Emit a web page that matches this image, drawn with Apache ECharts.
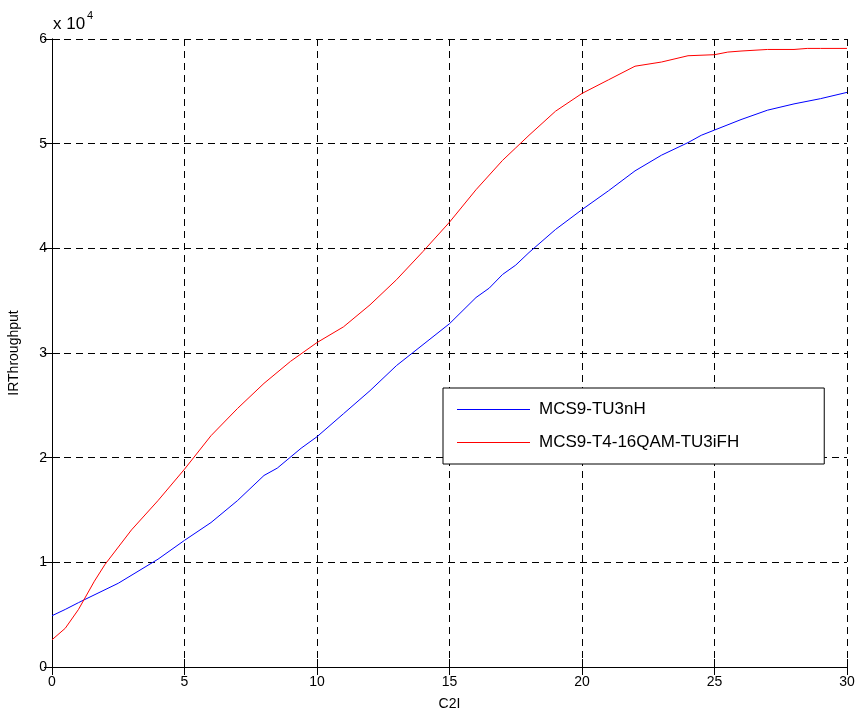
<!DOCTYPE html>
<html>
<head>
<meta charset="utf-8">
<script src="https://cdn.jsdelivr.net/npm/echarts@6/dist/echarts.min.js"></script>
<style>
html,body{margin:0;padding:0;background:#fff;}
#chart{width:857px;height:711px;}
</style>
</head>
<body>
<div id="chart"></div>
<script>
// C2I values (x) and IRThroughput values (y)
var blueX = [0, 0.5, 1, 1.2, 2.5, 4, 5, 6, 7, 8, 8.5, 9.4, 10, 11, 12, 13, 13.6, 14, 15, 16, 16.5, 17, 17.5, 18, 19, 20, 21, 22, 23, 24, 24.5, 25, 26, 27, 28, 29, 30];
var blueY = [4900, 5500, 6150, 6400, 8000, 10300, 12100, 13800, 15900, 18300, 19000, 20900, 22000, 24200, 26400, 28800, 30000, 30800, 32800, 35300, 36200, 37500, 38400, 39600, 41800, 43700, 45500, 47400, 48900, 50100, 50800, 51300, 52300, 53200, 53800, 54300, 54900];
var redX = [0, 0.5, 1, 1.2, 1.6, 2, 3, 4, 5, 6, 7, 8, 9, 10, 11, 12, 13, 14, 15, 16, 17, 17.5, 18, 19, 20, 21, 22, 23, 24, 25, 25.5, 26, 27, 28, 28.5, 29, 30];
var redY = [2600, 3700, 5500, 6400, 8200, 9800, 13100, 15900, 18900, 22100, 24700, 27100, 29200, 31000, 32500, 34600, 37000, 39700, 42500, 45600, 48400, 49600, 50800, 53100, 54800, 56100, 57400, 57800, 58400, 58500, 58750, 58850, 59000, 59000, 59100, 59100, 59100];
var seriesNames = ['MCS9-TU3nH', 'MCS9-T4-16QAM-TU3iFH'];
var xTicks = [0, 5, 10, 15, 20, 25, 30];
var yTicks = [0, 1, 2, 3, 4, 5, 6];
var yScale = 10000;

function pairs(xs, ys) {
  var out = [];
  for (var i = 0; i < xs.length; i++) out.push([xs[i], ys[i]]);
  return out;
}

var FONT = '"Liberation Sans", Arial, Helvetica, sans-serif';
var chart = echarts.init(document.getElementById('chart'), null, {renderer: 'canvas'});

var gridLine = {show: true, lineStyle: {color: '#000', width: 1, type: [7, 5]}};
var axLine = {show: true, lineStyle: {color: '#000', width: 1}};
var axTick = {show: true, inside: true, length: 8, lineStyle: {color: '#000', width: 1}};

chart.setOption({
  backgroundColor: '#fff',
  animation: false,
  textStyle: {fontFamily: FONT},
  grid: {left: 52, right: 10, top: 39, bottom: 44, containLabel: false, outerBoundsMode: 'none'},
  xAxis: [{
    type: 'value', min: xTicks[0], max: xTicks[xTicks.length - 1], interval: 5,
    position: 'bottom',
    name: 'C2I', nameLocation: 'middle', nameGap: 30,
    nameTextStyle: {fontSize: 14, color: '#000', fontFamily: FONT},
    axisLine: axLine, axisTick: axTick, splitLine: gridLine,
    axisLabel: {fontSize: 14, color: '#000', margin: 8, fontFamily: FONT}
  }, {
    type: 'value', min: xTicks[0], max: xTicks[xTicks.length - 1], interval: 5,
    position: 'top',
    axisLine: axLine, axisTick: axTick, splitLine: {show: false}, axisLabel: {show: false}
  }],
  yAxis: [{
    type: 'value', min: 0, max: yTicks[yTicks.length - 1] * yScale, interval: yScale,
    position: 'left',
    name: 'IRThroughput', nameLocation: 'middle', nameGap: 31,
    nameTextStyle: {fontSize: 14, color: '#000', fontFamily: FONT},
    axisLine: axLine, axisTick: axTick, splitLine: gridLine,
    axisLabel: {fontSize: 14, color: '#000', margin: 5, fontFamily: FONT,
      formatter: function (v) { return String(v / yScale); }}
  }, {
    type: 'value', min: 0, max: yTicks[yTicks.length - 1] * yScale, interval: yScale,
    position: 'right',
    axisLine: axLine, axisTick: axTick, splitLine: {show: false}, axisLabel: {show: false}
  }],
  legend: {
    orient: 'vertical', left: 443, top: 388,
    data: seriesNames,
    icon: 'rect', itemWidth: 73, itemHeight: 1.2, itemGap: 16,
    padding: [13, 85, 13, 14],
    borderColor: '#000', borderWidth: 1, backgroundColor: '#fff',
    textStyle: {fontSize: 17, color: '#000', fontFamily: FONT, padding: [0, 0, 0, 4]}
  },
  graphic: [
    {type: 'text', left: 53, top: 16, style: {text: 'x 10', font: '17px ' + FONT, fill: '#000'}},
    {type: 'text', left: 87, top: 10, style: {text: '4', font: '11px ' + FONT, fill: '#000'}}
  ],
  series: [{
    name: seriesNames[0], type: 'line', data: pairs(blueX, blueY),
    xAxisIndex: 0, yAxisIndex: 0,
    symbol: 'none', showSymbol: false, smooth: false,
    color: '#0000ff', lineStyle: {color: '#0000ff', width: 1}, z: 3
  }, {
    name: seriesNames[1], type: 'line', data: pairs(redX, redY),
    xAxisIndex: 0, yAxisIndex: 0,
    symbol: 'none', showSymbol: false, smooth: false,
    color: '#ff0000', lineStyle: {color: '#ff0000', width: 1}, z: 3
  }]
});
</script>
</body>
</html>
